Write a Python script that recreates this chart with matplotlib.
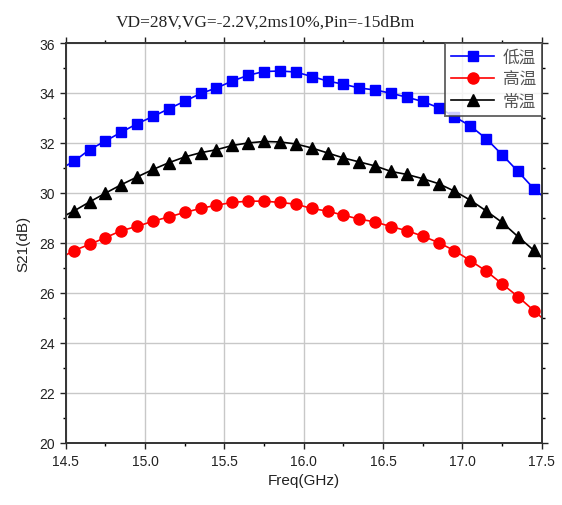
import matplotlib.pyplot as plt
from matplotlib.ticker import MultipleLocator

plt.rcParams['font.family'] = ['Liberation Sans', 'Noto Sans CJK SC']

# frequency points (GHz); line runs edge to edge, markers on the inner points
freq = [14.5, 14.55, 14.65, 14.75, 14.85, 14.95, 15.05, 15.15, 15.25, 15.35, 15.45,
        15.55, 15.65, 15.75, 15.85, 15.95, 16.05, 16.15, 16.25, 16.35, 16.45,
        16.55, 16.65, 16.75, 16.85, 16.95, 17.05, 17.15, 17.25, 17.35, 17.45, 17.5]

low_temp = [31.08, 31.26, 31.73, 32.08, 32.43, 32.77, 33.06, 33.37, 33.67, 33.98, 34.20,
            34.48, 34.71, 34.86, 34.88, 34.84, 34.66, 34.48, 34.35, 34.20, 34.12,
            33.99, 33.83, 33.66, 33.41, 33.05, 32.68, 32.17, 31.53, 30.86, 30.17, 29.90]

high_temp = [27.51, 27.69, 27.94, 28.21, 28.49, 28.66, 28.87, 29.04, 29.22, 29.38, 29.51,
             29.62, 29.67, 29.67, 29.62, 29.55, 29.38, 29.27, 29.11, 28.95, 28.84,
             28.65, 28.49, 28.27, 28.01, 27.69, 27.29, 26.87, 26.36, 25.85, 25.29, 25.01]

room_temp = [29.11, 29.27, 29.64, 29.99, 30.33, 30.64, 30.94, 31.21, 31.44, 31.61, 31.73,
             31.90, 32.00, 32.06, 32.04, 31.96, 31.80, 31.60, 31.40, 31.24, 31.08,
             30.86, 30.74, 30.57, 30.37, 30.07, 29.71, 29.28, 28.82, 28.25, 27.70, 27.41]

series = [('低温', low_temp, '#0000ff', 's', 7),
          ('高温', high_temp, '#ff0000', 'o', 8),
          ('常温', room_temp, 'black', '^', 8)]

fig = plt.figure(figsize=(5.62, 5.06), dpi=100)
ax = fig.add_axes([0.117, 0.123, 0.847, 0.790])

for name, vals, col, mk, ms in series:
    ax.plot(freq, vals, color=col, marker=mk, markersize=ms, linewidth=1.2,
            markevery=slice(1, -1), label=name)

ax.set_xlim(14.5, 17.5)
ax.set_ylim(20, 36)
ax.xaxis.set_major_locator(MultipleLocator(0.5))
ax.xaxis.set_minor_locator(MultipleLocator(0.25))
ax.yaxis.set_major_locator(MultipleLocator(2))
ax.yaxis.set_minor_locator(MultipleLocator(1))
ax.xaxis.set_major_formatter(plt.FormatStrFormatter('%.1f'))
ax.grid(True, which='major', color='#c8c8c8', linewidth=1.0)
ax.set_axisbelow(True)
ax.tick_params(which='major', direction='out', length=4, width=1, labelsize=10,
               colors='#222222', right=True, top=True, pad=4)
ax.tick_params(which='minor', direction='out', length=2.5, width=1, right=True, top=True)
for sp in ax.spines.values():
    sp.set_linewidth(1.4)
    sp.set_color('#333333')

ax.set_xlabel('Freq(GHz)', fontsize=11, color='#222222')
ax.set_ylabel('S21(dB)', fontsize=11, color='#222222', labelpad=6)
fig.text(0.472, 0.955, 'VD=28V,VG=-2.2V,2ms10%,Pin=-15dBm', fontsize=12.5,
         ha='center', va='center', family=['Liberation Serif', 'DejaVu Serif'],
         color='#222222')

leg = ax.legend(loc='upper right', frameon=True, fancybox=False,
                borderaxespad=0, handlelength=2.6, labelspacing=0.3,
                borderpad=0.35, handletextpad=0.5,
                prop={'family': ['Noto Sans CJK SC'], 'size': 12})
leg.get_frame().set_edgecolor('#444444')
leg.get_frame().set_linewidth(1.4)
for t in leg.get_texts():
    t.set_color('#555555')

fig.savefig('out.png', dpi=100)
